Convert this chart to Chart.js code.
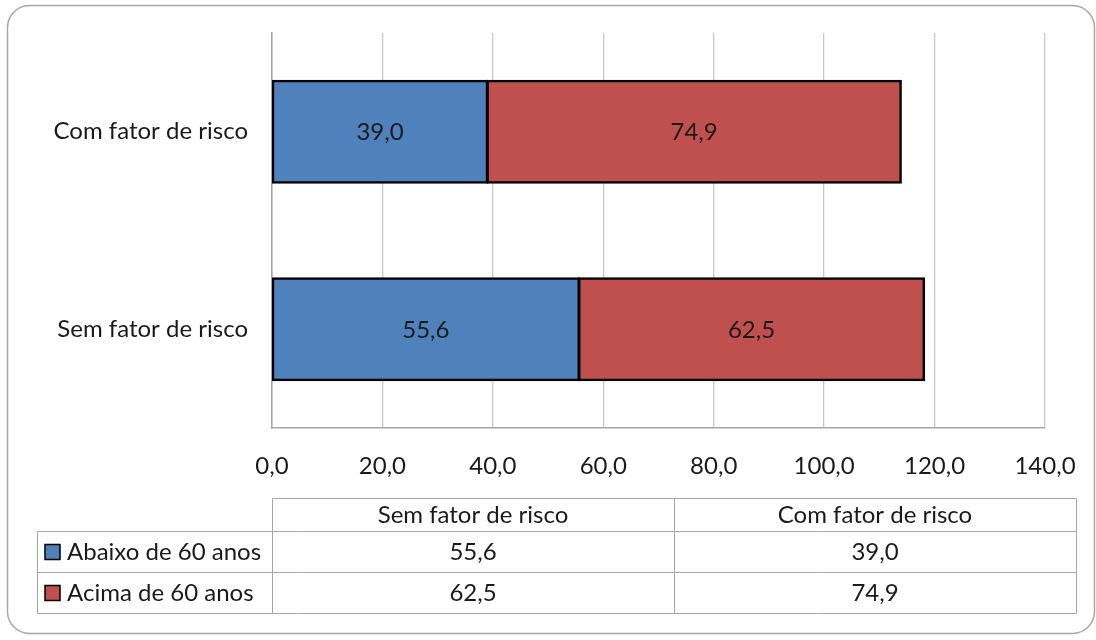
<!DOCTYPE html>
<html>
<head>
<meta charset="utf-8">
<script src="https://cdn.jsdelivr.net/npm/chart.js@4.4.1/dist/chart.umd.min.js"></script>
<style>
  html, body { margin: 0; padding: 0; background: #fff; }
  #wrap { width: 1096px; height: 640px; position: relative; }
</style>
</head>
<body>
<div id="wrap"><canvas id="c" width="1096" height="640"></canvas></div>
<script>
// Categories in data order (first one sits at the bottom of the bar chart)
const categories = ['Sem fator de risco', 'Com fator de risco'];
const seriesNames = ['Abaixo de 60 anos', 'Acima de 60 anos'];
const abaixo60 = [55.6, 39.0];
const acima60 = [62.5, 74.9];
const tickValues = [0, 20, 40, 60, 80, 100, 120, 140];

const BLUE = '#4F81BD';
const RED = '#C0504D';
const FONT = 'Lato, "Noto Sans", sans-serif';
const FONT_SIZE = 24;
const TEXT = '#1a1a1a';
const fmt = v => v.toFixed(1).replace('.', ',');

// Rounded frame around the whole chart
const framePlugin = {
  id: 'frame',
  beforeDraw(chart) {
    const ctx = chart.ctx;
    ctx.save();
    ctx.fillStyle = '#fff';
    ctx.fillRect(0, 0, chart.width, chart.height);
    const x = 7.5, y = 5.5, w = 1087, h = 628, r = 22;
    ctx.beginPath();
    ctx.moveTo(x + r, y);
    ctx.arcTo(x + w, y, x + w, y + h, r);
    ctx.arcTo(x + w, y + h, x, y + h, r);
    ctx.arcTo(x, y + h, x, y, r);
    ctx.arcTo(x, y, x + w, y, r);
    ctx.closePath();
    ctx.strokeStyle = '#A6A6A6';
    ctx.lineWidth = 1.5;
    ctx.stroke();
    ctx.restore();
  }
};

// Value labels centred in each bar segment
const valueLabelPlugin = {
  id: 'valueLabels',
  afterDatasetsDraw(chart) {
    const ctx = chart.ctx;
    ctx.save();
    ctx.font = FONT_SIZE + 'px ' + FONT;
    ctx.fillStyle = TEXT;
    ctx.textAlign = 'center';
    ctx.textBaseline = 'middle';
    chart.data.datasets.forEach((ds, di) => {
      chart.getDatasetMeta(di).data.forEach((bar, i) => {
        const p = bar.getProps(['x', 'y', 'base'], true);
        ctx.fillText(fmt(ds.data[i]), (p.x + p.base) / 2, p.y + 1);
      });
    });
    ctx.restore();
  }
};

// Data table under the axis, with legend keys in the first column
const tablePlugin = {
  id: 'dataTable',
  afterDraw(chart) {
    const ctx = chart.ctx;
    const x0 = 37, x1 = 272, x3 = 1076;
    const x2 = (x1 + x3) / 2;
    const yH = 498, yR1 = 531, yR2 = 572, yB = 613;
    ctx.save();
    ctx.strokeStyle = '#A6A6A6';
    ctx.lineWidth = 1;
    const line = (ax, ay, bx, by) => {
      ctx.beginPath();
      ctx.moveTo(Math.round(ax) + 0.5, Math.round(ay) + 0.5);
      ctx.lineTo(Math.round(bx) + 0.5, Math.round(by) + 0.5);
      ctx.stroke();
    };
    line(x1, yH, x3, yH);
    line(x0, yR1, x3, yR1);
    line(x0, yR2, x3, yR2);
    line(x0, yB, x3, yB);
    line(x0, yR1, x0, yB);
    line(x1, yH, x1, yB);
    line(x2, yH, x2, yB);
    line(x3, yH, x3, yB);

    ctx.font = FONT_SIZE + 'px ' + FONT;
    ctx.fillStyle = TEXT;
    ctx.textBaseline = 'middle';
    ctx.textAlign = 'center';
    const colX = [(x1 + x2) / 2, (x2 + x3) / 2];
    categories.forEach((c, i) => ctx.fillText(c, colX[i], (yH + yR1) / 2 + 1));
    const rows = [abaixo60, acima60];
    const rowY = [(yR1 + yR2) / 2, (yR2 + yB) / 2];
    const colors = [BLUE, RED];
    rows.forEach((vals, r) => {
      ctx.textAlign = 'center';
      vals.forEach((v, i) => ctx.fillText(fmt(v), colX[i], rowY[r] + 1));
      // legend key
      ctx.fillStyle = colors[r];
      ctx.fillRect(45, rowY[r] - 7, 15, 15);
      ctx.strokeStyle = '#000';
      ctx.lineWidth = 1.5;
      ctx.strokeRect(45, rowY[r] - 7, 15, 15);
      ctx.fillStyle = TEXT;
      ctx.textAlign = 'left';
      ctx.fillText(seriesNames[r], 67, rowY[r] + 1);
      ctx.strokeStyle = '#A6A6A6';
      ctx.lineWidth = 1;
    });
    ctx.restore();
  }
};

new Chart(document.getElementById('c'), {
  type: 'bar',
  data: {
    labels: categories,
    datasets: [
      { label: seriesNames[0], data: abaixo60, backgroundColor: BLUE, borderColor: '#000', borderWidth: 2.5, borderSkipped: false, inflateAmount: 1 },
      { label: seriesNames[1], data: acima60, backgroundColor: RED, borderColor: '#000', borderWidth: 2.5, borderSkipped: false, inflateAmount: 1 }
    ]
  },
  options: {
    indexAxis: 'y',
    responsive: false,
    animation: false,
    devicePixelRatio: 1,
    layout: { padding: { top: 33, right: 51, left: 0, bottom: 0 } },
    datasets: { bar: { barPercentage: 0.86, categoryPercentage: 0.6 } },
    plugins: { legend: { display: false }, tooltip: { enabled: false } },
    scales: {
      x: {
        stacked: true,
        min: 0, max: 140,
        afterBuildTicks: s => { s.ticks = tickValues.map(v => ({ value: v })); },
        afterFit: s => { s.height = 640 - 428; s.paddingLeft = 0; s.paddingRight = 0; },
        grid: { color: '#C8C8C8', lineWidth: 1.3, drawTicks: false },
        border: { color: '#A6A6A6', width: 1.5 },
        ticks: { padding: 24, color: TEXT, font: { family: FONT, size: FONT_SIZE }, callback: v => fmt(v) }
      },
      y: {
        stacked: true,
        reverse: true,
        afterFit: s => { s.width = 272; s.paddingTop = 0; s.paddingBottom = 0; },
        grid: { display: false, drawTicks: false },
        border: { color: '#A6A6A6', width: 1.5 },
        ticks: { padding: 24, color: TEXT, font: { family: FONT, size: FONT_SIZE } }
      }
    }
  },
  plugins: [framePlugin, valueLabelPlugin, tablePlugin]
});
</script>
</body>
</html>
